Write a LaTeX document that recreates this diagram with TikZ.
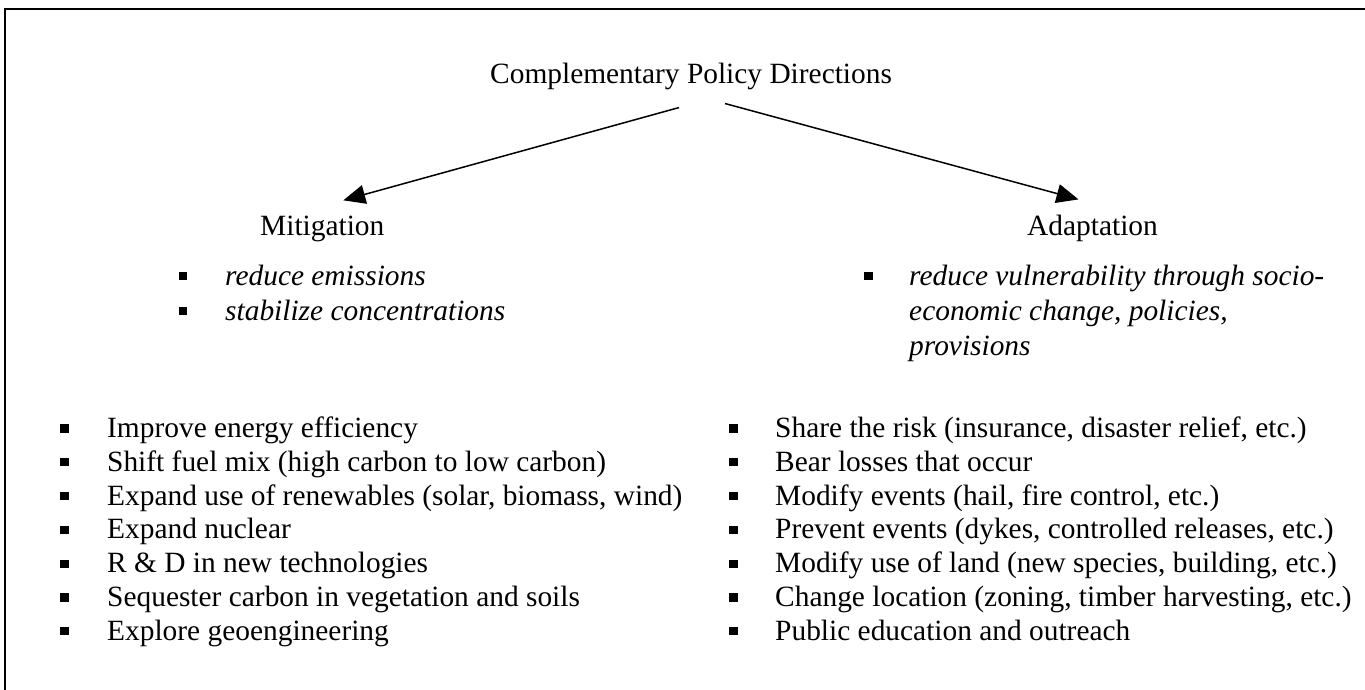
\documentclass[tikz,border=0pt]{standalone}
\usepackage{fontspec}
\setmainfont{Liberation Serif}
\usetikzlibrary{arrows.meta,calc}
\begin{document}
\begin{tikzpicture}[x=1pt,y=-1pt,
  txt/.style={anchor=base west, inner sep=0pt, font=\fontsize{29.4}{34}\selectfont},
  itxt/.style={anchor=base west, inner sep=0pt, font=\fontsize{29.4}{34}\selectfont\itshape},
  bsq/.style={fill=black, inner sep=0pt, minimum width=8.3pt, minimum height=8.3pt},
  arr/.style={line width=1.5pt, -{Triangle[length=22pt,width=19pt]}},
  framel/.style={line width=1.8pt}]
\useasboundingbox (0,0) rectangle (1365,690);
\draw[framel] (1366,9) -- (5,9) -- (5,691);

% headings
\node[txt] (title) at (490,84) {Complementary Policy Directions};
\node[txt] (mit) at (260,235) {Mitigation};
\node[txt] (ada) at (1027,235) {Adaptation};

% arrows
\draw[arr] ($(title.south)+(-12,17)$) -- ($(mit.north)+(21,-15)$);
\draw[arr] ($(title.south)+(34,13)$) -- ($(ada.north)+(-14,-15)$);

% mitigation goals
\node[bsq] (mb1) at (183,276) {};
\node[itxt] (m1) at (225,285) {reduce emissions};
\node[bsq] (mb2) at (183,311) {};
\node[itxt] (m2) at (225,320) {stabilize concentrations};

% adaptation goal
\node[bsq] (ab1) at (868.5,276) {};
\node[itxt] (a1) at (909,285) {reduce vulnerability through socio-};
\node[itxt] (a2) at (909,320) {economic change, policies,};
\node[itxt] (a3) at (909,355) {provisions};

% mitigation options
\foreach \i/\t in {0/Improve energy efficiency,
  1/Shift fuel mix (high carbon to low carbon),
  2/{Expand use of renewables (solar, biomass, wind)},
  3/Expand nuclear,
  4/R \& D in new technologies,
  5/Sequester carbon in vegetation and soils,
  6/Explore geoengineering}{
  \node[bsq] (lb\i) at (64.5,{428.5+33.8*\i}) {};
  \node[txt] (l\i) at (107,{437.5+33.8*\i}) {\t};
}

% adaptation options
\foreach \i/\t in {0/{Share the risk (insurance, disaster relief, etc.)},
  1/Bear losses that occur,
  2/{Modify events (hail, fire control, etc.)},
  3/{Prevent events (dykes, controlled releases, etc.)},
  4/{Modify use of land (new species, building, etc.)},
  5/{Change location (zoning, timber harvesting, etc.)},
  6/Public education and outreach}{
  \node[bsq] (rb\i) at (733.5,{428.5+33.8*\i}) {};
  \node[txt] (r\i) at (775,{437.5+33.8*\i}) {\t};
}
\end{tikzpicture}
\end{document}
